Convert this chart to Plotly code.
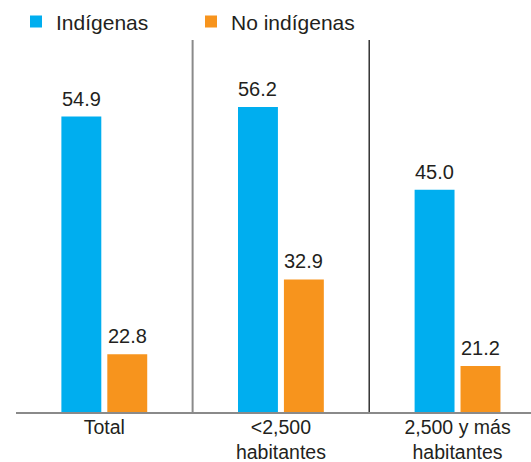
import plotly.graph_objects as go

categories = ["Total", "<2,500<br>habitantes", "2,500 y más<br>habitantes"]
series_names = ["Indígenas", "No indígenas"]
indigenas = [54.9, 56.2, 45.0]
no_indigenas = [22.8, 32.9, 21.2]
colors = ["#00AEEF", "#F7941D"]

x_pos = list(range(len(categories)))
bar_w = 0.226
offsets = [-0.243, 0.017]
values = [indigenas, no_indigenas]

fig = go.Figure()
for name, vals, col, off in zip(series_names, values, colors, offsets):
    fig.add_trace(go.Bar(
        x=x_pos, y=vals, name=name, marker=dict(color=col, line=dict(width=0)),
        width=bar_w, offset=off, hoverinfo="skip"))
    for xi, v in zip(x_pos, vals):
        fig.add_annotation(x=xi + off + bar_w / 2, y=v, text=f"{v:.1f}",
                           showarrow=False, yanchor="bottom", yshift=5,
                           font=dict(size=20, color="#231F20"))

# separators between groups
fig.add_shape(type="line", xref="x", yref="paper", x0=0.5, x1=0.5, y0=0, y1=1,
              line=dict(color="#8A8A8A", width=2))
fig.add_shape(type="line", xref="x", yref="paper", x0=1.5, x1=1.5, y0=0, y1=1,
              line=dict(color="#333333", width=1.5))
# baseline
fig.add_shape(type="line", xref="paper", yref="paper", x0=0, x1=1, y0=0, y1=0,
              line=dict(color="#8A8A8A", width=2))

fig.update_layout(
    width=531, height=462,
    margin=dict(l=16, r=0, t=40, b=49, autoexpand=False),
    paper_bgcolor="white", plot_bgcolor="white",
    font=dict(family="Liberation Sans, Arial, sans-serif", size=20, color="#231F20"),
    barmode="overlay",
    showlegend=True,
    legend=dict(orientation="h", x=16 / 531, xref="container", y=0.997, yref="container",
                xanchor="left", yanchor="top", entrywidth=130,
                entrywidthmode="pixels", font=dict(size=21, color="#231F20"),
                bgcolor="rgba(0,0,0,0)", borderwidth=0, itemclick=False),
    xaxis=dict(range=[-0.5, 2.416], tickmode="array", tickvals=x_pos,
               ticktext=categories, showgrid=False, zeroline=False,
               showline=False, ticks="", fixedrange=True, ticklabelstandoff=0,
               tickfont=dict(size=19.5, color="#231F20")),
    yaxis=dict(range=[14.85, 65.25], visible=False, showgrid=False,
               zeroline=False, fixedrange=True),
)

fig.write_html("out.html", config={"displayModeBar": False},
               post_script="document.body.style.margin='0';")
